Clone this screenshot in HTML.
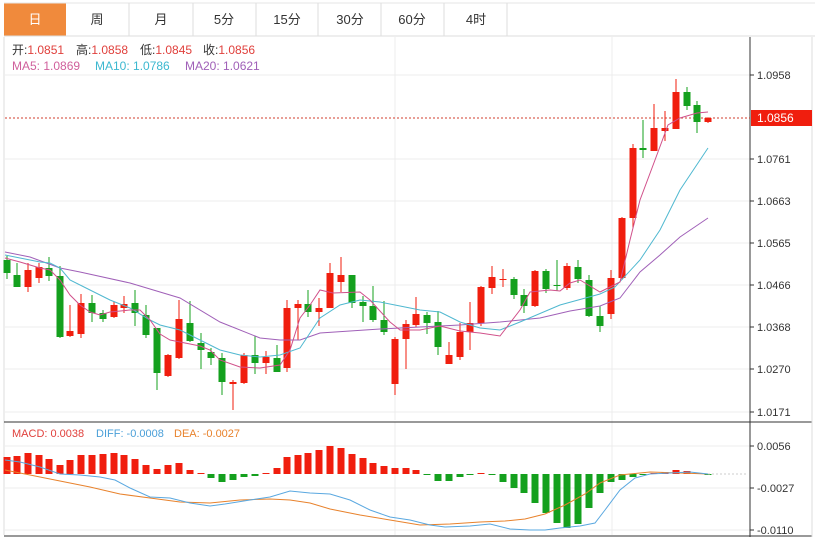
<!DOCTYPE html>
<html><head><meta charset="utf-8"><style>
html,body{margin:0;padding:0;background:#fff;}
body{width:823px;height:540px;overflow:hidden;font-family:"Liberation Sans","Noto Sans CJK SC",sans-serif;}
</style></head><body>
<svg width="823" height="540" xmlns="http://www.w3.org/2000/svg" font-family="Liberation Sans, Noto Sans CJK SC, sans-serif">
<rect width="823" height="540" fill="#fff"/>
<g font-size="13" fill="#333" text-anchor="middle">
<rect x="4" y="3" width="62" height="33" fill="#f08a3c"/>
<line x1="4" y1="36" x2="815" y2="36" stroke="#ddd"/>
<line x1="4" y1="3" x2="815" y2="3" stroke="#e6e6e6"/>
<g stroke="#ddd"><line x1="129" y1="3" x2="129" y2="36"/><line x1="193" y1="3" x2="193" y2="36"/><line x1="256" y1="3" x2="256" y2="36"/><line x1="318" y1="3" x2="318" y2="36"/><line x1="381" y1="3" x2="381" y2="36"/><line x1="444" y1="3" x2="444" y2="36"/><line x1="507" y1="3" x2="507" y2="36"/></g>
<text x="35" y="24" fill="#fff">日</text><text x="97" y="24">周</text><text x="161" y="24">月</text><text x="224" y="24">5分</text><text x="287" y="24">15分</text><text x="350" y="24">30分</text><text x="412" y="24">60分</text><text x="476" y="24">4时</text>
</g>
<line x1="395" y1="37" x2="395" y2="420" stroke="#eee"/><line x1="612" y1="37" x2="612" y2="535" stroke="#eee"/>
<line x1="395" y1="422" x2="395" y2="535" stroke="#eee"/>
<g stroke="#ececec"><line x1="5" y1="75" x2="750" y2="75"/><line x1="5" y1="159" x2="750" y2="159"/><line x1="5" y1="201" x2="750" y2="201"/><line x1="5" y1="243" x2="750" y2="243"/><line x1="5" y1="285" x2="750" y2="285"/><line x1="5" y1="327" x2="750" y2="327"/><line x1="5" y1="369" x2="750" y2="369"/><line x1="5" y1="412" x2="750" y2="412"/>
<line x1="5" y1="446" x2="750" y2="446"/><line x1="5" y1="488" x2="750" y2="488"/><line x1="5" y1="530" x2="750" y2="530"/></g>
<line x1="4" y1="37" x2="4" y2="535" stroke="#ddd"/>
<line x1="750" y1="37" x2="750" y2="537" stroke="#333"/>
<line x1="4" y1="422" x2="812" y2="422" stroke="#333"/>
<line x1="4" y1="536" x2="812" y2="536" stroke="#333"/>
<line x1="812" y1="37" x2="812" y2="537" stroke="#ddd"/>
<g font-size="11" fill="#333">
<text x="757" y="79">1.0958</text><text x="757" y="163">1.0761</text><text x="757" y="205">1.0663</text><text x="757" y="247">1.0565</text><text x="757" y="289">1.0466</text><text x="757" y="331">1.0368</text><text x="757" y="373">1.0270</text><text x="757" y="416">1.0171</text>
<text x="757" y="450">0.0056</text><text x="757" y="492">-0.0027</text><text x="757" y="534">-0.0110</text>
</g>
<g stroke="#333"><line x1="750" y1="75" x2="754" y2="75"/><line x1="750" y1="159" x2="754" y2="159"/><line x1="750" y1="201" x2="754" y2="201"/><line x1="750" y1="243" x2="754" y2="243"/><line x1="750" y1="285" x2="754" y2="285"/><line x1="750" y1="327" x2="754" y2="327"/><line x1="750" y1="369" x2="754" y2="369"/><line x1="750" y1="412" x2="754" y2="412"/><line x1="750" y1="446" x2="754" y2="446"/><line x1="750" y1="488" x2="754" y2="488"/><line x1="750" y1="530" x2="754" y2="530"/></g>
<g font-size="12">
<text x="12" y="54" fill="#333">开:<tspan fill="#e0403c">1.0851</tspan></text>
<text x="76" y="54" fill="#333">高:<tspan fill="#e0403c">1.0858</tspan></text>
<text x="140" y="54" fill="#333">低:<tspan fill="#e0403c">1.0845</tspan></text>
<text x="203" y="54" fill="#333">收:<tspan fill="#e0403c">1.0856</tspan></text>
<text x="12" y="70" fill="#d0609c">MA5: 1.0869</text>
<text x="95" y="70" fill="#3cb8d0">MA10: 1.0786</text>
<text x="185" y="70" fill="#a060b8">MA20: 1.0621</text>
<text x="12" y="437" font-size="11" fill="#e0403c">MACD: 0.0038</text>
<text x="96" y="437" font-size="11" fill="#4a9fd8">DIFF: -0.0008</text>
<text x="174" y="437" font-size="11" fill="#e8822c">DEA: -0.0027</text>
</g>
<line x1="5" y1="118" x2="750" y2="118" stroke="#d23c2c" stroke-dasharray="2,2"/>
<rect x="751" y="110" width="61" height="16" fill="#f01e0e"/>
<text x="757" y="122" font-size="12" fill="#fff">1.0856</text>
<g id="candles"></g>
<g id="macd"></g>
<polyline fill="none" stroke="#a060b8" stroke-width="1" points="5,252 30,257 60,268 80,272 130,283 180,298 220,322 260,338 280,340 300,340 320,333 350,331 380,329 420,327 460,325 500,322 540,318 570,311 600,306 620,298 640,272 660,255 680,237 708,218"/>
<polyline fill="none" stroke="#4fb8d0" stroke-width="1" points="5,255 40,262 50,263 60,268 70,280 90,290 110,300 130,308 150,320 160,325 180,330 200,340 220,350 240,355 260,357 280,355 300,348 320,318 340,305 360,300 380,302 400,306 420,310 440,312 460,322 480,328 500,330 520,322 560,305 600,294 615,287 640,260 660,230 680,190 708,148"/>
<polyline fill="none" stroke="#d0508a" stroke-width="1" points="5,258 20,262 40,268 50,270 60,280 70,295 80,305 90,312 100,315 110,312 130,310 140,310 150,320 160,334 170,340 180,342 200,346 210,350 220,360 240,367 260,368 280,365 290,350 300,318 310,305 320,290 333,293 360,292 370,300 390,322 400,330 420,330 440,326 460,331 480,333 500,336 520,310 530,292 550,290 560,291 570,283 580,280 600,292 620,282 630,240 640,200 655,160 668,125 680,118 697,113 708,112"/>
<line x1="708" y1="474" x2="748" y2="474" stroke="#ccc" stroke-dasharray="2,2"/>
<polyline fill="none" stroke="#e8822c" stroke-width="1" points="5,470 30,475 60,481 90,487 120,494 150,498 180,502 210,503 240,500 270,499 290,500 310,503 330,509 360,515 390,520 420,525 450,524 480,522 505,521 525,519 545,514 565,505 585,494 600,483 620,475 650,472 680,473 708,474"/>
<polyline fill="none" stroke="#5aa8e0" stroke-width="1" points="5,460 20,462 40,467 60,474 80,475 100,477 115,480 130,488 150,497 170,498 190,503 210,506 225,504 250,500 270,497 290,491 310,493 330,494 350,500 370,510 390,517 410,520 430,525 445,527 470,526 490,524 510,529 530,530 545,530 560,528 580,526 595,523 605,510 620,490 635,478 650,474 670,473 690,472 708,474"/>
</svg>
<script>
var C=[[7,'g',260,273,256,279],[17,'g',275,287,263,287],[28,'r',270,287,263,292],[39,'r',267,278,263,283],[49,'g',268,276,257,281],[60,'g',276,337,266,338],[70,'r',331,336,305,337],[81,'r',303,334,294,338],[92,'g',303,313,295,322],[103,'g',313,319,310,322],[114,'r',305,317,302,318],[124,'r',304,308,296,313],[135,'g',303,313,290,326],[146,'g',315,335,305,338],[157,'g',328,373,328,390],[168,'r',355,376,354,377],[179,'r',319,358,300,359],[190,'g',323,341,301,342],[201,'g',343,350,333,369],[211,'g',352,358,348,365],[222,'g',358,382,353,395],[233,'r',382,384,380,410],[244,'r',355,383,353,384],[255,'g',355,363,336,374],[266,'r',357,363,351,374],[277,'g',358,372,345,372],[287,'r',308,368,300,372],[298,'r',304,308,300,340],[308,'g',304,312,290,317],[319,'r',308,312,298,326],[330,'r',273,308,263,308],[341,'r',275,282,257,292],[352,'g',275,303,275,308],[363,'g',302,306,296,322],[373,'g',306,320,286,322],[384,'g',320,332,301,335],[395,'r',339,384,337,395],[406,'r',324,339,320,369],[416,'r',314,325,297,327],[427,'g',315,323,312,334],[438,'g',322,347,311,355],[449,'r',355,364,342,364],[460,'r',332,357,323,360],[470,'r',323,332,302,350],[481,'r',287,323,286,326],[492,'r',277,288,266,294],[503,'r',279,280,269,287],[514,'g',279,295,277,299],[524,'g',295,306,289,313],[535,'r',271,306,270,307],[546,'g',271,289,269,293],[557,'g',285,286,260,291],[567,'r',266,288,263,290],[578,'g',267,279,260,283],[589,'g',280,316,275,317],[600,'g',316,326,306,332],[611,'r',278,314,270,319],[622,'r',218,278,217,280],[633,'r',148,218,144,228],[643,'g',148,150,120,158],[654,'r',128,151,104,151],[665,'r',128,131,111,141],[676,'r',92,129,79,129],[687,'g',92,106,87,110],[697,'g',105,122,101,133],[708,'r',118,122,117,123]];
var M=[457,456,453,455,459,465,460,455,455,454,453,455,459,465,469,465,463,470,473,478,482,480,477,476,473,468,457,455,453,450,446,448,454,458,463,466,468,468,470,475,481,481,477,475,473,475,482,488,493,503,513,523,528,524,508,493,482,480,477,475,473,472,470,471,473,474];
var ns='http://www.w3.org/2000/svg',g=document.getElementById('candles'),m=document.getElementById('macd');
function el(p,t,a){var e=document.createElementNS(ns,t);for(var k in a)e.setAttribute(k,a[k]);p.appendChild(e);}
C.forEach(function(c){var col=c[1]=='r'?'#f01e0e':'#14a01e';el(g,'line',{x1:c[0],x2:c[0],y1:c[4],y2:c[5],stroke:col});el(g,'rect',{x:c[0]-3.5,y:c[2],width:7,height:Math.max(1,c[3]-c[2]),fill:col});});
var z=474;M.forEach(function(v,i){var x=C[i][0];var col=v<z?'#f01e0e':'#14a01e';var y=Math.min(v,z),h=Math.max(1,Math.abs(v-z));el(m,'rect',{x:x-3.5,y:y,width:7,height:h,fill:col});});
</script>
</body></html>
